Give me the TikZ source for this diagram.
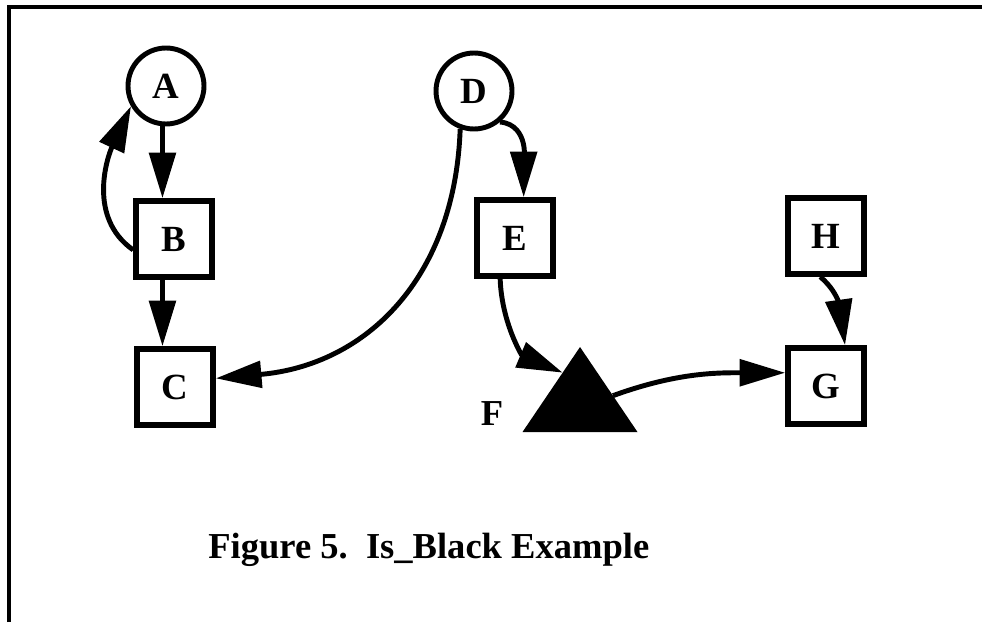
\documentclass[tikz,border=0pt]{standalone}
\usepackage{fontspec}
\setmainfont{Liberation Serif}
\usetikzlibrary{shapes, arrows.meta, calc}

\begin{document}
\begin{tikzpicture}[x=0.02cm, y=0.02cm,
        box/.style={rectangle, draw, line width=3.2pt, minimum size=1.52cm, inner sep=0pt, font=\fontsize{21}{24}\selectfont\bfseries},
        ball/.style={circle, draw, line width=2.8pt, minimum size=1.52cm, inner sep=0pt, font=\fontsize{21}{24}\selectfont\bfseries},
        tri/.style={isosceles triangle, isosceles triangle stretches, shape border rotate=90, fill=black, minimum width=2.3cm, minimum height=1.7cm, inner sep=0pt, outer sep=0pt},
        arr/.style={line width=2.8pt, -{Triangle[length=26pt, width=15pt]}},
        bigtext/.style={font=\fontsize{20.8}{24}\selectfont\bfseries, inner sep=0pt}]
        \useasboundingbox (0,0) rectangle (982,-622);

        % Frame
        \draw[line width=2.3pt] (9,-622) -- (9,-7) -- (982,-7);

        \node[ball] (A) at (166,-86) {A};
        \node[box] (B) at (174,-239) {B};
        \node[box] (C) at (175,-387) {C};

        \node[ball] (D) at (474,-91) {D};
        \node[box] (E) at (515,-238) {E};
        \node[tri, anchor=lower side] (F) at (580,-432) {};
        \node[bigtext, anchor=base] (Flab) at (492,-425) {F};

        \node[box] (H) at (826,-236) {H};
        \node[box] (G) at (826,-386) {G};

        \node[bigtext, anchor=base west] (caption) at (208,-558) {Figure 5.\ \ Is\_Black Example};

        % Left column
        \draw[arr] (A.265) -- (A.265 |- B.north);
        \draw[arr] (A.265 |- B.south) -- (A.265 |- C.north);
        \draw[arr] (B.195) to[out=145, in=245] (A.210);

        % Middle
        \draw[arr] (D.-50) to[out=-5, in=90] (E.78);
        \draw[arr] (D.-110) to[out=-92, in=5, looseness=1.1] (C.12);
        \draw[arr] (E.-110) to[out=-88, in=157] (F.121);

        % Right
        \draw[arr] (F.10) to[out=20, in=180] (G.162);
        \draw[arr] (H.-98) to[out=-40, in=98] (G.65);
\end{tikzpicture}
\end{document}
